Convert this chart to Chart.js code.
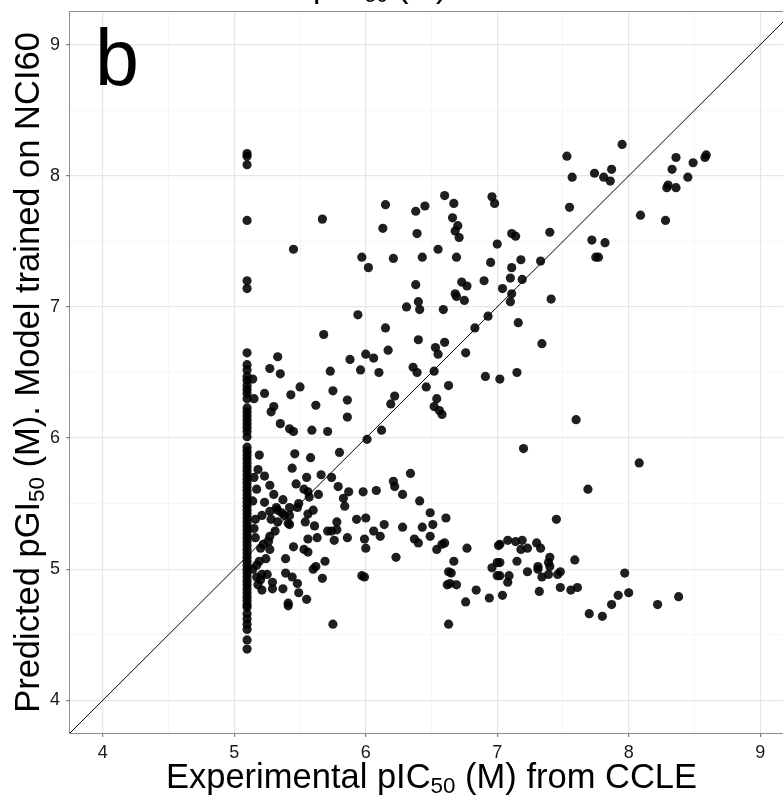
<!DOCTYPE html>
<html>
<head>
<meta charset="utf-8">
<script src="https://cdn.jsdelivr.net/npm/chart.js@4.4.1/dist/chart.umd.min.js"></script>
<style>
  html, body { margin: 0; padding: 0; background: #fff; overflow: hidden; }
  #wrap { position: relative; width: 783px; height: 799px; overflow: hidden; }
  #scatterChart { position: absolute; left: 0; top: 0; }
</style>
</head>
<body>
<div id="wrap"><canvas id="scatterChart" width="800" height="799"></canvas></div>
<script>
// axis limits and tick labels
const axisMin = 3.75;
const axisMax = 9.25;
const majorTicks = [4, 5, 6, 7, 8, 9];
const minorTicks = [4.5, 5.5, 6.5, 7.5, 8.5];

// cell lines at the top tested concentration (pIC50 ~5.1)
const floorX = 5.097;
const floorY = [8.17, 8.15, 8.085, 7.66, 7.20, 7.14, 6.65, 6.56, 6.52, 6.47, 6.44, 6.40, 6.37, 6.34,
  6.30, 6.23, 6.20, 6.17, 6.14, 6.11, 6.08, 6.05, 6.01, 5.93, 5.90, 5.87, 5.84, 5.81, 5.78, 5.75,
  5.72, 5.69, 5.66, 5.63, 5.60, 5.57, 5.54, 5.51, 5.48, 5.45, 5.42, 5.39, 5.36, 5.33, 5.30, 5.27,
  5.24, 5.21, 5.18, 5.15, 5.12, 5.09, 5.06, 5.03, 5.00, 4.97, 4.94, 4.91, 4.88, 4.85, 4.82, 4.79,
  4.76, 4.73, 4.71, 4.66, 4.62, 4.58, 4.54, 4.46, 4.39];

// [experimental pIC50, predicted pGI50]
const upperLeftPts = [[5.67,7.67],[5.45,7.44],[6.15,7.78],[6.13,7.60],[6.60,7.85],[6.38,7.73],[6.45,7.77],
  [6.67,7.79],[6.66,7.68],[6.70,7.62],[6.68,7.58],[6.71,7.53],[6.96,7.84],[6.98,7.79],[6.39,7.56],
  [7.11,7.56],[7.14,7.54],[7.00,7.48],[5.97,7.38],[6.02,7.30],[6.21,7.37],[6.43,7.38],[6.55,7.44],
  [6.69,7.38],[6.95,7.34],[7.11,7.30],[7.18,7.36],[6.38,7.17],[6.40,7.04],[6.41,6.98],[6.31,7.00],
  [6.59,6.98],[6.73,7.19],[6.77,7.16],[6.68,7.10],[6.69,7.08],[6.75,7.05],[6.90,7.20],[7.04,7.14],
  [7.10,7.22],[7.11,7.10],[7.10,7.04],[7.16,6.88],[5.94,6.94],[5.68,6.79],[6.15,6.84],[6.17,6.67],
  [6.40,6.75],[6.53,6.69],[6.55,6.64],[6.60,6.73],[6.76,6.65],[6.83,6.84],[6.93,6.93],[5.33,6.62],
  [5.27,6.53],[5.35,6.49],[5.14,6.45],[5.23,6.34],[5.50,6.39],[5.43,6.33],[5.73,6.51],[5.88,6.60],
  [6.00,6.64],[6.06,6.61],[5.96,6.52],[6.10,6.50],[5.75,6.36],[5.86,6.29],[5.62,6.25],[5.30,6.24],
  [5.28,6.20],[5.35,6.11],[5.42,6.07],[5.45,6.05],[5.59,6.06],[5.71,6.05],[5.86,6.16],[6.36,6.54],
  [6.39,6.50],[6.52,6.51],[6.46,6.39],[6.63,6.40],[6.22,6.32],[6.19,6.26],[6.54,6.30],[6.52,6.24],
  [6.56,6.21],[6.58,6.18],[6.12,6.06],[6.01,5.99],[6.91,6.47],[7.02,6.45],[7.15,6.50],[5.15,6.30]];

const upperRightPts = [[7.95,8.24],[7.53,8.15],[7.57,7.99],[7.74,8.02],[7.81,7.99],[7.86,7.96],[7.87,8.05],
  [7.55,7.76],[7.40,7.57],[7.19,7.21],[7.33,7.35],[7.41,7.06],[7.34,6.72],[7.72,7.51],[7.82,7.49],
  [7.75,7.38],[7.77,7.38],[8.09,7.70],[8.28,7.66],[8.29,7.91],[8.30,7.93],[8.36,7.91],[8.33,8.05],
  [8.36,8.14],[8.45,7.99],[8.49,8.10],[8.59,8.16],[8.58,8.14]];

const lowerRightPts = [[7.60,6.14],[7.20,5.92],[8.08,5.81],[7.69,5.61],[7.45,5.38],[7.59,5.07],[7.08,5.22],
  [7.14,5.21],[7.19,5.22],[7.02,5.19],[7.18,5.15],[7.23,5.16],[7.30,5.20],[7.33,5.16],[7.40,5.09],
  [7.02,5.05],[7.15,5.06],[7.31,5.02],[7.31,5.00],[7.39,5.05],[7.40,5.02],[7.23,4.98],[7.39,4.96],
  [7.48,4.98],[7.46,4.96],[7.09,4.95],[7.02,4.95],[7.08,4.90],[7.34,4.94],[7.04,4.80],[7.32,4.83],
  [7.48,4.86],[7.56,4.84],[7.61,4.86],[7.97,4.97],[7.92,4.80],[8.00,4.82],[7.87,4.73],[7.70,4.66],
  [7.80,4.64],[8.22,4.73],[8.38,4.79]];

const lowerMidPts = [[6.34,5.73],[6.21,5.67],[6.22,5.63],[6.28,5.57],[6.08,5.60],[5.98,5.59],[6.41,5.52],
  [6.49,5.43],[6.61,5.39],[6.00,5.39],[6.14,5.34],[6.28,5.32],[6.43,5.32],[6.51,5.34],[6.06,5.29],
  [6.11,5.25],[5.99,5.23],[6.00,5.16],[6.37,5.23],[6.40,5.20],[6.49,5.25],[6.58,5.19],[6.60,5.20],
  [6.54,5.15],[6.77,5.16],[6.23,5.09],[6.67,5.06],[6.63,4.98],[6.65,4.97],[6.62,4.88],[6.64,4.89],
  [6.69,4.88],[6.76,4.75],[6.84,4.84],[6.94,4.78],[6.63,4.58],[5.97,4.95],[5.99,4.94],[7.01,5.18],
  [7.00,5.05],[6.96,5.01],[7.00,4.95]];

const lowerLeftPts = [[5.19,5.87],[5.46,5.88],[5.58,5.85],[5.80,5.89],[5.44,5.77],[5.18,5.76],[5.23,5.71],
  [5.55,5.70],[5.66,5.72],[5.74,5.70],[5.27,5.64],[5.47,5.65],[5.79,5.63],[5.53,5.61],[5.56,5.59],
  [5.17,5.61],[5.87,5.59],[5.30,5.57],[5.23,5.51],[5.37,5.53],[5.64,5.57],[5.57,5.55],[5.83,5.54],
  [5.84,5.48],[5.32,5.47],[5.33,5.45],[5.36,5.43],[5.27,5.44],[5.42,5.47],[5.48,5.47],[5.60,5.45],
  [5.56,5.42],[5.28,5.38],[5.38,5.41],[5.16,5.38],[5.21,5.41],[5.42,5.41],[5.42,5.34],[5.54,5.36],
  [5.61,5.33],[5.78,5.36],[5.71,5.29],[5.74,5.29],[5.78,5.30],[5.76,5.22],[5.93,5.38],[5.86,5.24],
  [5.63,5.24],[5.56,5.23],[5.31,5.29],[5.27,5.25],[5.26,5.21],[5.22,5.19],[5.20,5.16],[5.27,5.15],
  [5.16,5.24],[5.45,5.17],[5.53,5.15],[5.56,5.13],[5.39,5.08],[5.69,5.06],[5.60,5.00],[5.62,5.02],
  [5.67,4.93],[5.39,4.97],[5.44,4.94],[5.48,4.89],[5.49,4.82],[5.55,4.77],[5.41,4.74],[5.41,4.72],
  [5.75,4.58],[5.17,4.94],[5.21,4.96],[5.18,4.88],[5.21,4.84],[5.29,4.90],[5.29,4.85],[5.37,4.85],
  [5.19,5.06],[5.17,5.03],[5.41,5.35],[5.49,5.50],[5.25,4.96],[5.20,4.92],[5.14,5.52],[5.15,5.70],
  [5.14,5.00],[5.15,5.31],[5.24,5.08],[5.33,5.36]];

const FONT = "'Liberation Sans', Arial, Helvetica, sans-serif";
const isMajor = v => Number.isInteger(v);
const gridValues = majorTicks.concat(minorTicks).sort((a, b) => a - b);

const points = floorY.map(y => ({ x: floorX, y: y }))
  .concat([].concat(upperLeftPts, upperRightPts, lowerRightPts, lowerMidPts, lowerLeftPts)
    .map(p => ({ x: p[0], y: p[1] })));

// text with a subscript part, like pIC50
function drawRich(ctx, parts, x, y, size) {
  const subSize = size * 0.65;
  let total = 0;
  parts.forEach(p => {
    ctx.font = (p.sub ? subSize : size) + 'px ' + FONT;
    p.w = ctx.measureText(p.t).width;
    total += p.w;
  });
  let cx = x - total / 2;
  parts.forEach(p => {
    ctx.font = (p.sub ? subSize : size) + 'px ' + FONT;
    ctx.fillText(p.t, cx, p.sub ? y + size * 0.15 : y);
    cx += p.w;
  });
}

const decorations = {
  id: 'decorations',
  afterDraw(chart) {
    const { ctx, chartArea: a } = chart;
    ctx.save();
    // panel border
    ctx.strokeStyle = '#8c8c8c';
    ctx.lineWidth = 1;
    ctx.strokeRect(a.left - 0.5, a.top - 0.5, a.right - a.left + 1, a.bottom - a.top + 1);

    ctx.fillStyle = '#000';
    ctx.textAlign = 'left';
    ctx.textBaseline = 'alphabetic';

    // x axis title
    drawRich(ctx, [{ t: 'Experimental pIC' }, { t: '50', sub: true }, { t: ' (M) from CCLE' }],
      (a.left + a.right) / 2, 788, 34.5);

    // y axis title
    ctx.save();
    ctx.translate(39, (a.top + a.bottom) / 2);
    ctx.rotate(-Math.PI / 2);
    drawRich(ctx, [{ t: 'Predicted pGI' }, { t: '50', sub: true }, { t: ' (M). Model trained on NCI60' }],
      0, 0, 34.5);
    ctx.restore();

    // title of the figure, mostly cropped away above
    drawRich(ctx, [{ t: 'pIC' }, { t: '50', sub: true }, { t: ' (M)' }], 380, -3, 33);

    // panel letter
    ctx.font = '79px ' + FONT;
    ctx.fillText('b', 95, 85);
    ctx.restore();
  }
};

const gridOpts = {
  color: ctx => (ctx.tick && isMajor(ctx.tick.value)) ? '#e6e6e6' : '#f4f4f4',
  lineWidth: ctx => (ctx.tick && isMajor(ctx.tick.value)) ? 1.2 : 0.8,
  tickColor: ctx => (ctx.tick && isMajor(ctx.tick.value)) ? '#7f7f7f' : 'rgba(0,0,0,0)',
  tickLength: 4,
  drawTicks: true
};

const tickOpts = {
  callback: v => isMajor(v) ? String(v) : '',
  autoSkip: false,
  maxRotation: 0,
  color: '#1a1a1a',
  font: { family: FONT, size: 18 }
};

new Chart(document.getElementById('scatterChart').getContext('2d'), {
  type: 'scatter',
  data: {
    datasets: [{
      label: 'identity',
      type: 'line',
      data: [{ x: axisMin, y: axisMin }, { x: axisMax, y: axisMax }],
      borderColor: '#000',
      borderWidth: 1,
      pointRadius: 0,
      fill: false,
      order: 0
    }, {
      label: 'cell lines',
      data: points,
      backgroundColor: 'rgba(0,0,0,0.88)',
      borderWidth: 0,
      pointRadius: 4.6,
      order: 1
    }]
  },
  options: {
    responsive: false,
    animation: false,
    devicePixelRatio: 1,
    layout: { padding: { top: 12, right: 7, bottom: 0, left: 0 } },
    plugins: {
      legend: { display: false },
      tooltip: { enabled: false }
    },
    scales: {
      x: {
        type: 'linear',
        min: axisMin,
        max: axisMax,
        afterBuildTicks: s => { s.ticks = gridValues.map(v => ({ value: v })); },
        afterFit: s => { s.height = 66; s.paddingLeft = 0; s.paddingRight = 0; },
        grid: gridOpts,
        border: { display: false },
        ticks: Object.assign({ padding: 5 }, tickOpts)
      },
      y: {
        type: 'linear',
        min: axisMin,
        max: axisMax,
        afterBuildTicks: s => { s.ticks = gridValues.map(v => ({ value: v })); },
        afterFit: s => { s.width = 70; s.paddingTop = 0; s.paddingBottom = 0; },
        grid: gridOpts,
        border: { display: false },
        ticks: Object.assign({ padding: 6 }, tickOpts)
      }
    }
  },
  plugins: [decorations]
});
</script>
</body>
</html>
